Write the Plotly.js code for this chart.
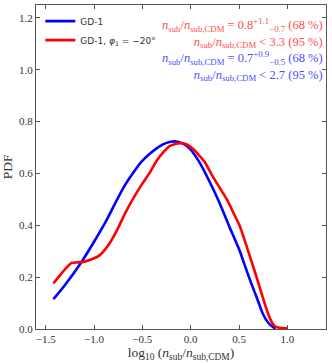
<!DOCTYPE html>
<html>
<head>
<meta charset="utf-8">
<script src="https://cdn.plot.ly/plotly-3.0.1.min.js"></script>
<style>
  html, body { margin: 0; padding: 0; background: #fff; }
  #chart { width: 332px; height: 363px; }
</style>
</head>
<body>
<div id="chart"></div>
<script>
// PDF of log10(n_sub / n_sub,CDM)
var xBlue = [-1.42, -1.30, -1.14, -1.01, -0.87, -0.76, -0.68, -0.60, -0.51, -0.42, -0.33, -0.25, -0.165, -0.08, -0.01, 0.09, 0.20, 0.30, 0.40, 0.505, 0.57, 0.626, 0.69, 0.745, 0.80, 0.85, 0.88];
var yBlue = [0.115, 0.17, 0.253, 0.33, 0.42, 0.50, 0.555, 0.60, 0.645, 0.677, 0.703, 0.718, 0.724, 0.715, 0.696, 0.644, 0.565, 0.485, 0.395, 0.304, 0.235, 0.177, 0.115, 0.06, 0.025, 0.008, 0.002];

var xRed = [-1.42, -1.35, -1.29, -1.23, -1.17, -1.11, -1.03, -0.94, -0.84, -0.75, -0.68, -0.60, -0.51, -0.42, -0.35, -0.28, -0.22, -0.16, -0.10, -0.04, 0.02, 0.08, 0.145, 0.22, 0.30, 0.38, 0.44, 0.505, 0.565, 0.626, 0.69, 0.745, 0.80, 0.85, 0.88, 0.92, 1.00];
var yRed = [0.176, 0.208, 0.235, 0.255, 0.257, 0.259, 0.268, 0.285, 0.33, 0.39, 0.445, 0.50, 0.555, 0.605, 0.65, 0.683, 0.705, 0.714, 0.717, 0.712, 0.696, 0.673, 0.644, 0.594, 0.545, 0.496, 0.45, 0.40, 0.335, 0.265, 0.19, 0.123, 0.06, 0.02, 0.008, 0.005, 0.003];

var nameBlue = 'GD-1';
var nameRed = 'GD-1, <i>φ</i><sub>1</sub> = −20°';

var ratio = '<i>n</i><sub>sub</sub>/<i>n</i><sub>sub,CDM</sub>';
var statBlocks = [
  {lines: [ratio + ' = 0.8<sup>+1.1</sup><sub>−0.7</sub> (68 %)', ratio + ' &lt; 3.3 (95 %)'],
   color: '#ff4d4d', y: 1.143},
  {lines: [ratio + ' = 0.7<sup>+0.9</sup><sub>−0.5</sub> (68 %)', ratio + ' &lt; 2.7 (95 %)'],
   color: '#4d4dff', y: 1.016}
];

var traces = [
  {x: xBlue, y: yBlue, mode: 'lines', name: nameBlue,
   line: {color: '#0000ff', width: 2.6, shape: 'spline', smoothing: 0.6}},
  {x: xRed, y: yRed, mode: 'lines', name: nameRed,
   line: {color: '#ff0000', width: 2.6, shape: 'spline', smoothing: 0.6}}
];

var serif = 'Liberation Serif, DejaVu Serif, serif';

var axisCommon = {
  showgrid: false, zeroline: false,
  showline: true, linecolor: '#555', linewidth: 1, mirror: 'ticks',
  ticks: 'inside', ticklen: 4, tickcolor: '#555', tickwidth: 1,
  tickfont: {family: serif, size: 11, color: '#333'}
};

var layout = {
  width: 332, height: 363,
  margin: {l: 36, r: 6, t: 5, b: 34},
  paper_bgcolor: '#fff', plot_bgcolor: '#fff',
  showlegend: true,
  legend: {x: 0.015, y: 0.995, xanchor: 'left', yanchor: 'top',
           bgcolor: 'rgba(0,0,0,0)', font: {family: 'DejaVu Sans, sans-serif', size: 9, color: '#333'},
           tracegroupgap: 0, itemwidth: 30},
  xaxis: Object.assign({}, axisCommon, {
    range: [-1.6, 1.4], tickvals: [-1.5, -1.0, -0.5, 0.0, 0.5, 1.0],
    ticktext: ['−1.5', '−1.0', '−0.5', '0.0', '0.5', '1.0'],
    title: {text: 'log<sub>10</sub> (' + ratio + ')', font: {family: serif, size: 13.5, color: '#333'}, standoff: 2}
  }),
  yaxis: Object.assign({}, axisCommon, {
    range: [0, 1.25], tickvals: [0, 0.2, 0.4, 0.6, 0.8, 1.0, 1.2],
    ticktext: ['0.0', '0.2', '0.4', '0.6', '0.8', '1.0', '1.2'],
    title: {text: 'PDF', font: {family: serif, size: 13.5, color: '#333'}, standoff: 4}
  }),
  annotations: statBlocks.map(function (b) {
    return {xref: 'paper', yref: 'y', x: 0.995, y: b.y, xanchor: 'right', yanchor: 'middle',
            align: 'right', showarrow: false, text: b.lines.join('<br>'),
            font: {family: serif, size: 12.5, color: b.color}};
  })
};

Plotly.newPlot('chart', traces, layout, {displayModeBar: false, staticPlot: true});
</script>
</body>
</html>
